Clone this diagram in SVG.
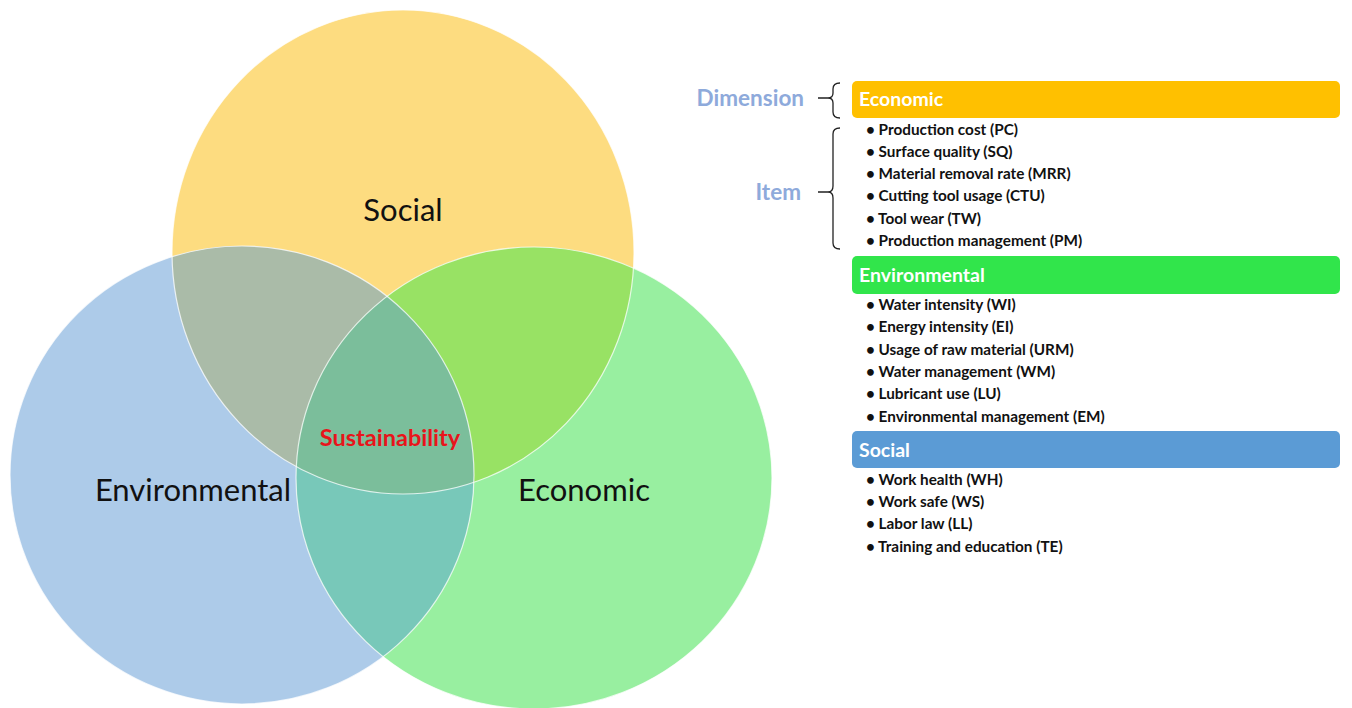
<svg xmlns="http://www.w3.org/2000/svg" width="1352" height="708" viewBox="0 0 1352 708">
  <style>
    .venn-label { font-family: Lato, "Open Sans", "Liberation Sans", sans-serif; fill: #111; text-anchor: middle; }
    .core { font-family: Lato, "Liberation Sans", sans-serif; font-weight: bold; fill: #E8141B; text-anchor: middle; font-size: 23.5px; }
    .edge { fill: none; stroke: #ffffff; stroke-opacity: 0.75; stroke-width: 1.2; }
    .side { font-family: Lato, "Liberation Sans", sans-serif; font-weight: bold; fill: #8EAADB; font-size: 22.5px; text-anchor: end; }
    .bar-title { font-family: Lato, "Liberation Sans", sans-serif; font-weight: bold; fill: #ffffff; font-size: 19.5px; }
    .item { font-family: Lato, "Liberation Sans", sans-serif; font-weight: bold; fill: #111; font-size: 15.3px; }
    .brace { fill: none; stroke: #222; stroke-width: 1.3; }
  </style>
  <defs>
    <ellipse id="eSocial" cx="403" cy="252" rx="231" ry="242"/>
    <ellipse id="eEnv" cx="242" cy="475" rx="232" ry="229"/>
    <ellipse id="eEco" cx="534" cy="478" rx="238" ry="231"/>
    <clipPath id="clipSocial"><use href="#eSocial"/></clipPath>
    <clipPath id="clipEnv"><use href="#eEnv"/></clipPath>
  </defs>

  <rect width="1352" height="708" fill="#ffffff"/>

  <!-- Venn diagram -->
  <g id="venn">
    <g id="social">
      <use href="#eSocial" fill="#FDDC80"/>
    </g>
    <g id="environmental">
      <use href="#eEnv" fill="#ADCBE9"/>
    </g>
    <g id="economic">
      <use href="#eEco" fill="#98EFA0"/>
    </g>
    <!-- pairwise overlaps -->
    <g id="overlaps">
      <g clip-path="url(#clipSocial)">
        <use href="#eEnv" fill="#AABBA8"/>
        <use href="#eEco" fill="#98E264"/>
      </g>
      <g clip-path="url(#clipEnv)">
        <use href="#eEco" fill="#78C8B9"/>
      </g>
      <g clip-path="url(#clipSocial)">
        <g clip-path="url(#clipEnv)">
          <use href="#eEco" fill="#7BBE9B"/>
        </g>
      </g>
    </g>
    <g id="outlines">
      <use href="#eSocial" class="edge"/>
      <use href="#eEnv" class="edge"/>
      <use href="#eEco" class="edge"/>
    </g>
    <text class="venn-label" x="403" y="221" font-size="31">Social</text>
    <text class="venn-label" x="193" y="501" font-size="31">Environmental</text>
    <text class="venn-label" x="584" y="501" font-size="31">Economic</text>
    <text class="core" x="390" y="446">Sustainability</text>
  </g>

  <!-- Legend labels and braces -->
  <g id="legend-keys">
    <text class="side" x="804" y="106">Dimension</text>
    <text class="side" x="801" y="200">Item</text>
  </g>
  <g id="connectors">
    <path class="brace" d="M840,83 Q833,83 833,89 L833,93 Q833,98 828,98 L818,98 M828,98 Q833,98 833,103 L833,112 Q833,118 840,118"/>
    <path class="brace" d="M840,128 Q833,128 833,134 L833,186 Q833,192 828,192 L818,192 M828,192 Q833,192 833,198 L833,243 Q833,249 840,249"/>
  </g>

  <!-- Economic dimension -->
  <g id="dim-economic">
    <rect x="852" y="81" width="488" height="37" rx="5" fill="#FFC000"/>
    <text class="bar-title" x="859" y="106">Economic</text>
    <g class="item">
      <text x="866" y="135">• Production cost (PC)</text>
      <text x="866" y="157">• Surface quality (SQ)</text>
      <text x="866" y="179">• Material removal rate (MRR)</text>
      <text x="866" y="201">• Cutting tool usage (CTU)</text>
      <text x="866" y="224">• Tool wear (TW)</text>
      <text x="866" y="246">• Production management (PM)</text>
    </g>
  </g>

  <!-- Environmental dimension -->
  <g id="dim-environmental">
    <rect x="852" y="256" width="488" height="38" rx="5" fill="#31E54B"/>
    <text class="bar-title" x="859" y="282">Environmental</text>
    <g class="item">
      <text x="866" y="310">• Water intensity (WI)</text>
      <text x="866" y="332">• Energy intensity (EI)</text>
      <text x="866" y="355">• Usage of raw material (URM)</text>
      <text x="866" y="377">• Water management (WM)</text>
      <text x="866" y="399">• Lubricant use (LU)</text>
      <text x="866" y="422">• Environmental management (EM)</text>
    </g>
  </g>

  <!-- Social dimension -->
  <g id="dim-social">
    <rect x="852" y="431" width="488" height="37" rx="5" fill="#5B9BD5"/>
    <text class="bar-title" x="859" y="457">Social</text>
    <g class="item">
      <text x="866" y="485">• Work health (WH)</text>
      <text x="866" y="507">• Work safe (WS)</text>
      <text x="866" y="529">• Labor law (LL)</text>
      <text x="866" y="552">• Training and education (TE)</text>
    </g>
  </g>
</svg>
